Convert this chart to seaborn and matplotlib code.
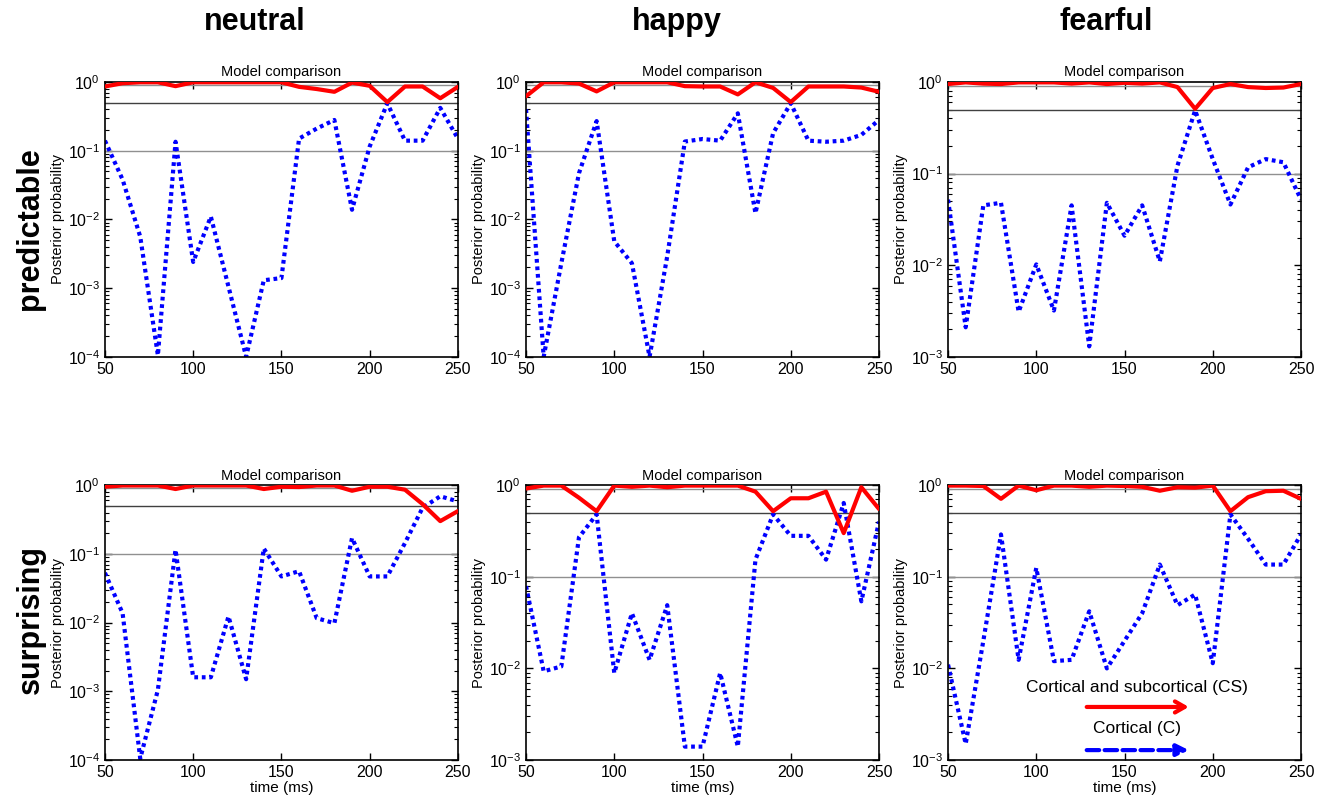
import numpy as np
import matplotlib
matplotlib.use("Agg")
import matplotlib.pyplot as plt
import seaborn as sns

# time axis (ms)
time_ms = [50, 60, 70, 80, 90, 100, 110, 120, 130, 140, 150,
           160, 170, 180, 190, 200, 210, 220, 230, 240, 250]

conditions = ["neutral", "happy", "fearful"]
rows = ["predictable", "surprising"]

# posterior probability, cortical and subcortical model (CS, red)
cs_neutral_pred = [0.86, 0.96, 0.99, 0.99, 0.87, 0.99, 0.99, 0.99, 0.99, 0.99, 0.99,
                   0.85, 0.79, 0.72, 0.98, 0.88, 0.51, 0.86, 0.86, 0.58, 0.85]
cs_happy_pred = [0.62, 0.99, 0.99, 0.95, 0.73, 0.99, 0.99, 0.99, 0.99, 0.87, 0.86,
                 0.86, 0.66, 0.99, 0.82, 0.51, 0.86, 0.86, 0.86, 0.83, 0.72]
cs_fearful_pred = [0.95, 0.99, 0.96, 0.95, 0.99, 0.99, 0.99, 0.96, 0.99, 0.95, 0.98,
                   0.96, 0.99, 0.88, 0.51, 0.86, 0.95, 0.88, 0.86, 0.87, 0.95]
cs_neutral_surp = [0.95, 0.99, 0.99, 0.99, 0.88, 0.99, 0.99, 0.99, 0.99, 0.88, 0.95,
                   0.94, 0.99, 0.99, 0.83, 0.95, 0.95, 0.86, 0.53, 0.30, 0.42]
cs_happy_surp = [0.92, 0.99, 0.99, 0.73, 0.52, 0.99, 0.96, 0.99, 0.95, 0.99, 0.99,
                 0.99, 0.99, 0.85, 0.52, 0.72, 0.72, 0.85, 0.30, 0.95, 0.55]
cs_fearful_surp = [0.99, 0.99, 0.98, 0.71, 0.99, 0.88, 0.99, 0.99, 0.96, 0.99, 0.98,
                   0.96, 0.87, 0.95, 0.94, 0.99, 0.52, 0.74, 0.86, 0.87, 0.71]

# posterior probability, cortical model (C, blue)
c_neutral_pred = [0.14, 0.038, 0.0056, 1.05e-4, 0.135, 0.0024, 0.011, 0.00105, 1.0e-4, 0.0013, 0.0014,
                  0.15, 0.21, 0.28, 0.0138, 0.115, 0.49, 0.14, 0.14, 0.42, 0.15]
c_happy_pred = [0.40, 1.0e-4, 0.0023, 0.047, 0.27, 0.0048, 0.0023, 1.0e-4, 0.0029, 0.136, 0.148,
                0.14, 0.35, 0.0123, 0.18, 0.49, 0.14, 0.135, 0.14, 0.17, 0.28]
c_fearful_pred = [0.052, 0.0021, 0.045, 0.048, 0.0031, 0.0102, 0.0032, 0.045, 0.0013, 0.048, 0.021,
                  0.045, 0.011, 0.122, 0.49, 0.144, 0.046, 0.117, 0.144, 0.133, 0.052]
c_neutral_surp = [0.053, 0.0137, 1.05e-4, 0.00105, 0.115, 0.0016, 0.0016, 0.0123, 0.0015, 0.12, 0.047,
                  0.056, 0.0116, 0.0098, 0.17, 0.047, 0.047, 0.144, 0.47, 0.69, 0.58]
c_happy_surp = [0.079, 0.0093, 0.0105, 0.27, 0.48, 0.0089, 0.040, 0.0124, 0.049, 0.0014, 0.0014,
                0.0089, 0.0014, 0.154, 0.48, 0.28, 0.28, 0.154, 0.64, 0.054, 0.40]
c_fearful_surp = [0.011, 0.0015, 0.020, 0.29, 0.0124, 0.125, 0.012, 0.0124, 0.042, 0.0100, 0.020,
                  0.040, 0.136, 0.049, 0.064, 0.0114, 0.48, 0.26, 0.136, 0.136, 0.29]

cs_series = [[cs_neutral_pred, cs_happy_pred, cs_fearful_pred],
             [cs_neutral_surp, cs_happy_surp, cs_fearful_surp]]
c_series = [[c_neutral_pred, c_happy_pred, c_fearful_pred],
            [c_neutral_surp, c_happy_surp, c_fearful_surp]]
y_bottoms = [[1e-4, 1e-4, 1e-3],
             [1e-4, 1e-3, 1e-3]]

sns.set_style("ticks")
plt.rcParams["font.family"] = ["Liberation Sans", "DejaVu Sans"]
plt.rcParams["mathtext.fontset"] = "custom"
plt.rcParams["mathtext.rm"] = "Liberation Sans"
plt.rcParams["mathtext.it"] = "Liberation Sans:italic"
plt.rcParams["text.color"] = "black"
plt.rcParams["axes.labelcolor"] = "black"
plt.rcParams["xtick.color"] = "black"
plt.rcParams["ytick.color"] = "black"

fig = plt.figure(figsize=(13.25, 8), dpi=100)

col_x = [0.0792, 0.397, 0.7155]
row_y = [0.554, 0.05]
w, h = 0.2664, 0.3435

for r in range(2):
    for c in range(3):
        ax = fig.add_axes([col_x[c], row_y[r], w, h])
        ax.axhline(0.9, color="#909090", lw=1, zorder=1)
        ax.axhline(0.5, color="#404040", lw=1, zorder=1)
        ax.axhline(0.1, color="#909090", lw=1, zorder=1)
        sns.lineplot(x=time_ms, y=cs_series[r][c], ax=ax, color="#ff0000", lw=3, zorder=3)
        line = sns.lineplot(x=time_ms, y=c_series[r][c], ax=ax, color="#0000ff", lw=3, zorder=2)
        line.lines[-1].set_dashes((0.9, 0.9))
        ax.set_yscale("log")
        ax.set_xlim(50, 250)
        ax.set_ylim(y_bottoms[r][c], 1)
        ax.set_xticks([50, 100, 150, 200, 250])
        ax.yaxis.set_minor_locator(matplotlib.ticker.LogLocator(base=10, subs=np.arange(2, 10)))
        ax.tick_params(which="both", direction="in", top=True, right=True, labelsize=11.5,
                       colors="black")
        ax.tick_params(which="major", length=5, width=1)
        ax.tick_params(which="minor", length=3, width=0.8, left=True, right=True)
        for s in ax.spines.values():
            s.set_linewidth(1.2)
            s.set_color("black")
        ax.set_title("Model comparison", fontsize=10.5, pad=4)
        ax.set_ylabel("Posterior probability", fontsize=10.5, labelpad=2)
        if r == 1:
            ax.set_xlabel("time (ms)", fontsize=11, labelpad=1)
        else:
            ax.set_xlabel("")

        if r == 1 and c == 2:
            ax.text(0.534, 0.263, "Cortical and subcortical (CS)", transform=ax.transAxes,
                    ha="center", va="center", fontsize=12.5)
            ax.annotate("", xy=(0.69, 0.193), xytext=(0.385, 0.193), xycoords="axes fraction",
                        arrowprops=dict(arrowstyle="->,head_length=0.7,head_width=0.4",
                                        color="#ff0000", lw=3))
            ax.text(0.534, 0.113, "Cortical (C)", transform=ax.transAxes,
                    ha="center", va="center", fontsize=12.5)
            ax.annotate("", xy=(0.69, 0.036), xytext=(0.385, 0.036), xycoords="axes fraction",
                        arrowprops=dict(arrowstyle="-|>,head_length=0.7,head_width=0.35",
                                        color="#0000ff", lw=3, linestyle=(0, (3, 1.3))))

header_x = [0.192, 0.511, 0.835]
for c in range(3):
    fig.text(header_x[c], 0.972, conditions[c], ha="center", va="center",
             fontsize=22, fontweight="bold")

row_label_y = [0.714, 0.226]
for r in range(2):
    fig.text(0.023, row_label_y[r], rows[r], ha="center", va="center", rotation=90,
             fontsize=22, fontweight="bold")

plt.savefig("out.png", dpi=100)
